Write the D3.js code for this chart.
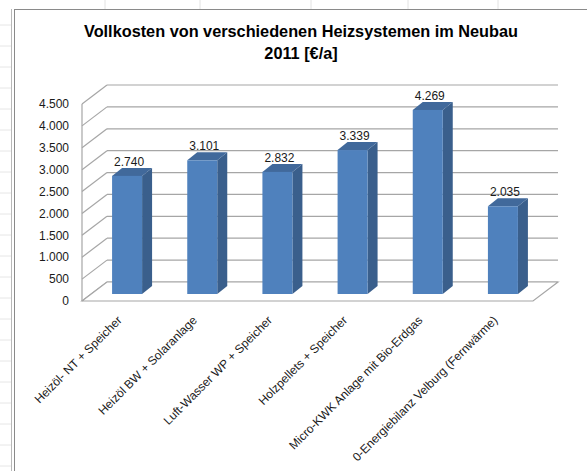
<!DOCTYPE html>
<html>
<head>
<meta charset="utf-8">
<script src="https://cdn.jsdelivr.net/npm/d3@7"></script>
<style>
  body { margin: 0; background: #fff; }
  svg { display: block; }
  text { font-family: "Liberation Sans", Arial, sans-serif; fill: #1a1a1a; }
</style>
</head>
<body>
<script>
// chart data
var categories = [
  "Heizöl- NT + Speicher",
  "Heizöl BW + Solaranlage",
  "Luft-Wasser WP + Speicher",
  "Holzpellets + Speicher",
  "Micro-KWK Anlage mit Bio-Erdgas",
  "0-Energiebilanz Velburg (Fernwärme)"
];
var values = [2740, 3101, 2832, 3339, 4269, 2035];
var yTicks = [0, 500, 1000, 1500, 2000, 2500, 3000, 3500, 4000, 4500];
var titleLines = ["Vollkosten von verschiedenen Heizsystemen im Neubau", "2011 [€/a]"];

var W = 587, H = 471;
var fmt = function (v) { return d3.format(",")(v).replace(/,/g, "."); };

var svg = d3.select("body").append("svg")
  .attr("width", W)
  .attr("height", H);

// spreadsheet remnants around the chart object
var sheet = svg.append("g");
[105, 200, 311, 408, 498].forEach(function (x) {
  sheet.append("line").attr("x1", x).attr("x2", x).attr("y1", 0).attr("y2", 9)
    .attr("stroke", "#e2e2e2");
});
d3.range(25, H, 21).forEach(function (y) {
  sheet.append("line").attr("x1", 0).attr("x2", 11).attr("y1", y).attr("y2", y)
    .attr("stroke", "#e6e6e6");
});
sheet.append("line").attr("x1", 11.5).attr("x2", 11.5).attr("y1", 9).attr("y2", H)
  .attr("stroke", "#b8b8b8");
sheet.append("rect")
  .attr("x", 14.5).attr("y", 9.5)
  .attr("width", W + 20).attr("height", H + 20)
  .attr("fill", "#fff")
  .attr("stroke", "#8a8a8a");

// title
svg.append("g").selectAll("text")
  .data(titleLines)
  .enter().append("text")
  .attr("x", 301)
  .attr("y", function (d, i) { return 37 + i * 22; })
  .attr("text-anchor", "middle")
  .style("font-weight", "bold")
  .style("font-size", "16.3px")
  .style("fill", "#000")
  .text(function (d) { return d; });

// 3D geometry: front plane, wall depth offset, bar plane offset
var depth = { dx: 25, dy: -19 };
var barPlane = { dx: 7.5, dy: -7 };
var barDepth = { dx: 10, dy: -8 };
var barW = 30;

var x = d3.scaleBand().domain(categories).range([82, 533]);
var y = d3.scaleLinear().domain([0, 4500]).range([301, 104]);
var yBar = d3.scaleLinear().domain([0, 4500]).range([301 + barPlane.dy, 107 + barPlane.dy]);

var grid = "#a6a6a6";
var plot = svg.append("g");

// back wall gridlines + side wall diagonals
yTicks.forEach(function (t) {
  var yf = y(t), yb = y(t) + depth.dy;
  plot.append("line")
    .attr("x1", 82 + depth.dx).attr("x2", 533 + depth.dx)
    .attr("y1", yb).attr("y2", yb)
    .attr("stroke", grid).attr("stroke-width", 1.2);
  plot.append("line")
    .attr("x1", 82).attr("x2", 82 + depth.dx)
    .attr("y1", yf).attr("y2", yb)
    .attr("stroke", grid).attr("stroke-width", 1.2);
});
// front vertical axis edge
plot.append("line")
  .attr("x1", 82).attr("x2", 82)
  .attr("y1", y(4500)).attr("y2", y(0))
  .attr("stroke", grid).attr("stroke-width", 1.2);
// floor
var floorPts = [
  [82, y(0)], [533, y(0)],
  [533 + depth.dx, y(0) + depth.dy], [82 + depth.dx, y(0) + depth.dy]
];
plot.append("polygon")
  .attr("points", floorPts.map(function (p) { return p.join(","); }).join(" "))
  .attr("fill", "#fff")
  .attr("stroke", grid).attr("stroke-width", 1.2);

// bars
var bars = plot.selectAll("g.bar")
  .data(values)
  .enter().append("g")
  .attr("class", "bar");

function bx(d, i) { return x(categories[i]) + (x.bandwidth() - barW) / 2 + barPlane.dx; }
var base = yBar(0);

bars.append("polygon")
  .attr("fill", "#3a5f8c")
  .attr("points", function (d, i) {
    var x0 = bx(d, i) + barW, yt = yBar(d);
    return [[x0, yt], [x0 + barDepth.dx, yt + barDepth.dy],
      [x0 + barDepth.dx, base + barDepth.dy], [x0, base]].join(" ");
  });
bars.append("polygon")
  .attr("fill", "#41699b")
  .attr("points", function (d, i) {
    var x0 = bx(d, i), yt = yBar(d);
    return [[x0, yt], [x0 + barW, yt], [x0 + barW + barDepth.dx, yt + barDepth.dy],
      [x0 + barDepth.dx, yt + barDepth.dy]].join(" ");
  });
bars.append("rect")
  .attr("x", bx)
  .attr("y", function (d) { return yBar(d); })
  .attr("width", barW)
  .attr("height", function (d) { return base - yBar(d); })
  .attr("fill", "#4f81bd");

// value labels
bars.append("text")
  .attr("x", function (d, i) { return bx(d, i) + barW / 2 + 2; })
  .attr("y", function (d) { return yBar(d) + barDepth.dy - 2; })
  .attr("text-anchor", "middle")
  .style("font-size", "12px")
  .text(fmt);

// y axis labels
svg.append("g").selectAll("text")
  .data(yTicks)
  .enter().append("text")
  .attr("x", 69)
  .attr("y", function (d) { return y(d); })
  .attr("dy", "0.35em")
  .attr("text-anchor", "end")
  .style("font-size", "12px")
  .text(fmt);

// category labels
svg.append("g").selectAll("text")
  .data(categories)
  .enter().append("text")
  .attr("transform", function (d) {
    return "translate(" + (x(d) + x.bandwidth() / 2 + 3) + ",321) rotate(-45)";
  })
  .attr("text-anchor", "end")
  .style("font-size", "12px")
  .text(function (d) { return d; });
</script>
</body>
</html>
